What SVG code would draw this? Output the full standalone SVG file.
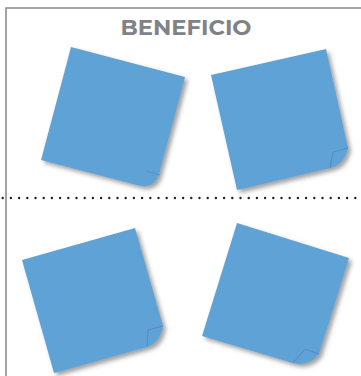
<svg xmlns="http://www.w3.org/2000/svg" width="361" height="376" viewBox="0 0 361 376">
<defs>
<filter id="sh" x="-20%" y="-20%" width="150%" height="150%">
<feDropShadow dx="3" dy="3" stdDeviation="2.2" flood-color="#555" flood-opacity="0.55"/>
</filter>
<style>
.note{fill:#5fa3d6;filter:url(#sh)}
.fold{fill:none;stroke:#5a7fc8;stroke-width:0.9;stroke-linejoin:round}
.frame{fill:none;stroke:#8c8c8c;stroke-width:1.6}
.title{font-family:"Montserrat","Lato","Liberation Sans",sans-serif;font-weight:bold;font-size:21px;fill:#808285}
</style>
</defs>
<rect width="361" height="376" fill="#ffffff"/>
<path class="frame" d="M6,376 V8 H361"/>
<text class="title" x="186" y="35" text-anchor="middle" textLength="131" lengthAdjust="spacingAndGlyphs">BENEFICIO</text>
<g id="connectors">
<line x1="2.7" y1="198" x2="361" y2="198" stroke="#222" stroke-width="2.4" stroke-linecap="round" stroke-dasharray="0 8.2"/>
</g>
<g id="note1">
<path class="note" d="M71,47 L185,77 L159,174 Q154,190 137,185 L41,160 Z"/>
<path d="M146,171 L160,175" stroke="#5585c5" stroke-width="0.7" fill="none"/>
</g>
<g id="note2">
<path class="note" d="M211,75 L326,49 L348,148 Q344,165 330,168 L237,190 Z"/>
<path class="fold" d="M348,148 L333,152 L330,168"/>
</g>
<g id="note3">
<path class="note" d="M22,260 L135,228 L163,326 Q160,343 147,347 L54,373 Z"/>
<path class="fold" d="M163,326 L148,330 L147,347"/>
</g>
<g id="note4">
<path class="note" d="M237,223 L349,258 L319,354 Q309,367 293,363 L202,336 Z"/>
<path class="fold" d="M319,354 L305,349 L293,363"/>
</g>
</svg>
